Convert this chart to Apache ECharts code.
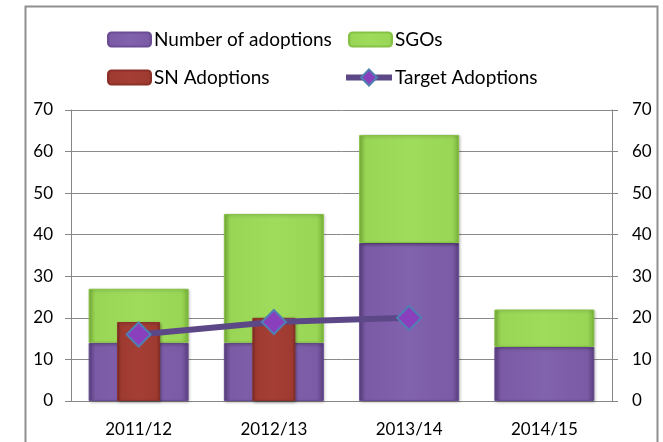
<!DOCTYPE html>
<html><head><meta charset="utf-8">
<script src="https://cdn.jsdelivr.net/npm/echarts@6/dist/echarts.min.js"></script>
<style>html,body{margin:0;padding:0;background:#fff}#c{width:663px;height:442px}</style>
</head><body><div id="c"></div>
<script>
const categories = ['2011/12', '2012/13', '2013/14', '2014/15'];
const numberOfAdoptions = [14, 14, 38, 13];
const sgos = [13, 31, 26, 9];
const snAdoptions = [19, 20, null, null];
const targetAdoptions = [16, 19, 20, null];
const yTicks = [0, 10, 20, 30, 40, 50, 60, 70];

const FONT = 'Lato, "Open Sans", sans-serif';
function bevel(edge, mid, light) {
  return {
    type: 'linear', x: 0, y: 0, x2: 1, y2: 0,
    colorStops: [
      {offset: 0, color: edge}, {offset: 0.07, color: mid},
      {offset: 0.5, color: light}, {offset: 0.93, color: mid}, {offset: 1, color: edge}
    ]
  };
}
const purple = bevel('#5a3f80', '#7b5aa6', '#8162ad');
const green = bevel('#79b23a', '#99d656', '#a0dc5c');
const red = bevel('#7a2720', '#9e3a30', '#a53f35');

const chart = echarts.init(document.getElementById('c'));
const legendBase = {itemWidth: 43, itemHeight: 14, itemGap: 3,
  textStyle: {fontSize: 19, color: '#000', fontFamily: FONT, padding: [0, 0, 0, -2]}, padding: 0};
chart.setOption({
  animation: false,
  textStyle: {fontFamily: FONT},
  graphic: [{type: 'rect', shape: {x: 25.5, y: 6.5, width: 632, height: 500},
    style: {fill: 'none', stroke: '#8f8f8f', lineWidth: 2}, z: -10}],
  legend: [
    Object.assign({}, legendBase, {left: 107, top: 30, data: ['Number of adoptions']}),
    Object.assign({}, legendBase, {left: 348, top: 30, data: ['SGOs']}),
    Object.assign({}, legendBase, {left: 107, top: 68, data: ['SN Adoptions']}),
    Object.assign({}, legendBase, {left: 343, top: 68, itemWidth: 46, itemHeight: 20,
      lineStyle: {width: 6, color: '#5d4887'}, data: ['Target Adoptions']})
  ],
  grid: {left: 71, right: 51, top: 110, bottom: 41},
  xAxis: [
    {type: 'category', data: categories,
      axisLine: {lineStyle: {color: '#868686', width: 1}},
      axisTick: {length: 6, lineStyle: {color: '#868686'}},
      axisLabel: {fontSize: 17, color: '#000', margin: 20, fontFamily: FONT}},
    {type: 'category', data: categories, show: false}
  ],
  yAxis: [
    {type: 'value', min: 0, max: 70, interval: 10, position: 'left',
      axisLine: {show: true, lineStyle: {color: '#868686'}},
      axisTick: {show: true, length: 6, lineStyle: {color: '#868686'}},
      splitLine: {lineStyle: {color: '#8a8a8a', width: 1}},
      axisLabel: {fontSize: 17, color: '#000', margin: 18, fontFamily: FONT,
        formatter: v => yTicks.includes(v) ? String(v) : ''}},
    {type: 'value', min: 0, max: 70, interval: 10, position: 'right',
      axisLine: {show: true, lineStyle: {color: '#868686'}},
      axisTick: {show: true, length: 6, lineStyle: {color: '#868686'}},
      splitLine: {show: false},
      axisLabel: {fontSize: 17, color: '#000', margin: 20, fontFamily: FONT,
        formatter: v => yTicks.includes(v) ? String(v) : ''}}
  ],
  series: [
    {name: 'Number of adoptions', type: 'bar', stack: 'a', data: numberOfAdoptions,
      barWidth: 100, itemStyle: {color: purple, borderColor: '#6a4d93', borderWidth: 1,
        shadowColor: 'rgba(0,0,0,0.25)', shadowBlur: 3, shadowOffsetX: 1, shadowOffsetY: 1}},
    {name: 'SGOs', type: 'bar', stack: 'a', data: sgos,
      barWidth: 100, itemStyle: {color: green, borderColor: '#86c146', borderWidth: 1,
        shadowColor: 'rgba(0,0,0,0.25)', shadowBlur: 3, shadowOffsetX: 1, shadowOffsetY: 1}},
    {name: 'SN Adoptions', type: 'bar', xAxisIndex: 1, data: snAdoptions, barWidth: 43, z: 3,
      itemStyle: {color: red, borderColor: '#8b3129', borderWidth: 1,
        shadowColor: 'rgba(0,0,0,0.3)', shadowBlur: 3, shadowOffsetX: 1, shadowOffsetY: 1}},
    {name: 'Target Adoptions', type: 'line', data: targetAdoptions, z: 5,
      symbol: 'diamond', symbolSize: 24, showSymbol: true,
      lineStyle: {color: '#5d4887', width: 6},
      itemStyle: {color: '#8a3fbd', borderColor: '#4f7fb3', borderWidth: 2}}
  ]
});
</script></body></html>
